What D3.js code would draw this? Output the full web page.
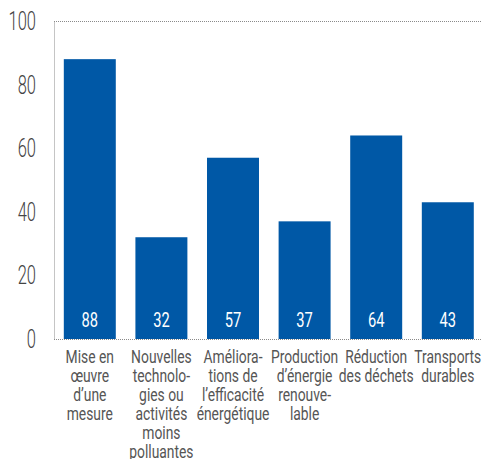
<!DOCTYPE html>
<html>
<head>
<meta charset="utf-8">
<script src="https://cdn.jsdelivr.net/npm/d3@7"></script>
<style>
  html, body { margin: 0; padding: 0; background: #fff; }
  svg { display: block; }
  text { font-family: Roboto, "Noto Sans", sans-serif; }
</style>
</head>
<body>
<svg id="chart" width="481" height="459"></svg>
<script>
// Category labels, split into the lines they wrap onto
const categories = [
  ["Mise en", "œuvre", "d’une", "mesure"],
  ["Nouvelles", "technolo-", "gies ou", "activités", "moins", "polluantes"],
  ["Améliora-", "tions de", "l’efficacité", "énergétique"],
  ["Production", "d’énergie", "renouve-", "lable"],
  ["Réduction", "des déchets"],
  ["Transports", "durables"]
];
const values = [88, 32, 57, 37, 64, 43];
const yTicks = [0, 20, 40, 60, 80, 100];

const svg = d3.select("#chart");
const plotLeft = 54, plotTop = 21, plotBottom = 339, plotRight = 54 + 6 * 71.6;

const x = d3.scaleBand()
  .domain(d3.range(values.length))
  .range([plotLeft, plotRight])
  .paddingInner(0.274)
  .paddingOuter(0.137);

const y = d3.scaleLinear().domain([0, 100]).range([plotBottom, plotTop]);

// Condensed text: a regular face squeezed horizontally
function condensed(parent, px, py, sx) {
  return parent.append("text")
    .attr("transform", `translate(${px},${py}) scale(${sx},1)`);
}

// Dotted frame: left and top edges
const frame = svg.append("g")
  .attr("stroke", "#8a8a8a")
  .attr("stroke-width", 1)
  .attr("stroke-dasharray", "1,1")
  .attr("fill", "none");
frame.append("line").attr("x1", plotLeft + 0.5).attr("x2", plotLeft + 0.5).attr("y1", y(100) + 0.5).attr("y2", y(0) + 0.5);
frame.append("line").attr("x1", plotLeft).attr("x2", 481).attr("y1", y(100) + 0.5).attr("y2", y(100) + 0.5);

// Bars
svg.append("g").selectAll("rect")
  .data(values)
  .join("rect")
  .attr("x", (d, i) => x(i))
  .attr("y", d => y(d))
  .attr("width", x.bandwidth())
  .attr("height", d => y(0) - y(d))
  .attr("fill", "#0058a6");

// Dotted baseline
svg.append("line")
  .attr("x1", plotLeft).attr("x2", 481)
  .attr("y1", y(0) + 0.5).attr("y2", y(0) + 0.5)
  .attr("stroke", "#8a8a8a")
  .attr("stroke-dasharray", "1,1");

// Value labels inside bars
const gv = svg.append("g");
values.forEach((v, i) => {
  condensed(gv, x(i) + x.bandwidth() / 2, y(0) - 12, 0.7)
    .attr("text-anchor", "middle")
    .attr("fill", "#fff")
    .attr("font-size", 21)
    .text(v);
});

// Y axis labels
const gy = svg.append("g");
yTicks.forEach(t => {
  condensed(gy, 36, y(t) + 9, 0.66)
    .attr("text-anchor", "end")
    .attr("fill", "#444")
    .attr("font-size", 25)
    .attr("font-weight", 300)
    .text(t);
});

// Category labels
const gx = svg.append("g");
categories.forEach((lines, i) => {
  const t = condensed(gx, x(i) + x.bandwidth() / 2, 363, 0.77)
    .attr("text-anchor", "middle")
    .attr("fill", "#555")
    .attr("font-size", 18);
  lines.forEach((ln, j) => {
    t.append("tspan")
      .attr("x", 0)
      .attr("dy", j === 0 ? 0 : 19)
      .text(ln);
  });
});
</script>
</body>
</html>
